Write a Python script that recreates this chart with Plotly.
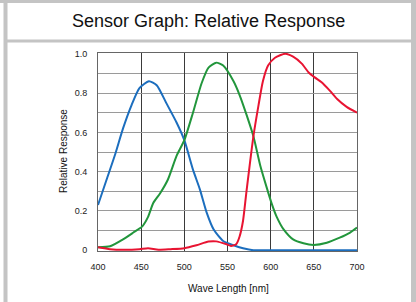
import plotly.graph_objects as go

# ---- data ----
blue_wl = [400, 410, 420, 429, 439, 448, 459, 468, 479, 491, 500, 510, 518, 526, 534, 545, 557, 568, 580, 600, 650, 700]
blue_val = [0.23, 0.36, 0.49, 0.62, 0.74, 0.825, 0.86, 0.84, 0.75, 0.65, 0.56, 0.41, 0.31, 0.19, 0.105, 0.047, 0.025, 0.01, 0.0, 0.0, 0.0, 0.0]

green_wl = [400, 414, 429, 441, 451, 458, 464, 472, 481, 491, 500, 510, 520, 528, 537, 545, 557, 564, 572, 580,
            588, 595, 601, 607, 615, 626, 638, 650, 665, 680, 692, 700]
green_val = [0.015, 0.02, 0.055, 0.09, 0.12, 0.17, 0.24, 0.29, 0.36, 0.48, 0.56, 0.70, 0.85, 0.93, 0.955, 0.94, 0.86, 0.79, 0.69, 0.58,
             0.43, 0.325, 0.24, 0.17, 0.106, 0.055, 0.035, 0.027, 0.038, 0.064, 0.09, 0.115]

red_wl = [400, 414, 430, 448, 458, 470, 484, 500, 514, 528, 537, 549, 554, 560, 564, 568, 572, 580, 586, 591, 597,
          605, 617, 626, 636, 644, 651, 659, 669, 677, 688, 700]
red_val = [0.015, 0.005, 0.002, 0.005, 0.01, 0.002, 0.005, 0.01, 0.025, 0.044, 0.045, 0.03, 0.022, 0.03, 0.07, 0.15, 0.30, 0.58, 0.74, 0.86, 0.94,
           0.98, 1.0, 0.985, 0.95, 0.905, 0.88, 0.855, 0.81, 0.77, 0.73, 0.70]

x_ticks = [400, 450, 500, 550, 600, 650, 700]
y_ticks = [0, 0.2, 0.4, 0.6, 0.8, 1.0]
y_tick_text = ["0", "0.2", "0.4", "0.6", "0.8", "1.0"]

title_text = "Sensor Graph: Relative Response"
x_title = "Wave Length [nm]"
y_title = "Relative Response"

# ---- layout geometry (pixels) ----
W, H = 416, 302
PL, PR, PT, PB = 98, 357, 53, 251


def px(x):
    return (x - PL) / (PR - PL)


def py(y):
    return (PB - y) / (PB - PT)


FONT = "Liberation Sans, Arial, sans-serif"

fig = go.Figure()
for wl, val, col in [(blue_wl, blue_val, "rgb(28,110,190)"),
                     (green_wl, green_val, "rgb(34,150,60)"),
                     (red_wl, red_val, "rgb(232,20,50)")]:
    fig.add_trace(go.Scatter(x=wl, y=val, mode="lines",
                             line=dict(color=col, width=2, shape="spline", smoothing=0.6),
                             showlegend=False, hoverinfo="skip"))

border = "#c4c4c4"
shapes = [
    dict(type="rect", xref="paper", yref="paper", x0=px(3.5), x1=px(7.5), y0=py(H), y1=py(0),
         fillcolor=border, line_width=0, layer="below"),
    dict(type="rect", xref="paper", yref="paper", x0=px(411), x1=px(W), y0=py(H), y1=py(0),
         fillcolor=border, line_width=0, layer="below"),
    dict(type="rect", xref="paper", yref="paper", x0=px(0), x1=px(W), y0=py(3), y1=py(0),
         fillcolor=border, line_width=0, layer="below"),
    dict(type="rect", xref="paper", yref="paper", x0=px(4), x1=px(W), y0=py(42.5), y1=py(39.5),
         fillcolor=border, line_width=0, layer="below"),
]

fig.update_layout(
    width=W, height=H,
    margin=dict(l=PL, r=W - PR, t=PT, b=H - PB, pad=0),
    paper_bgcolor="white", plot_bgcolor="white",
    font=dict(family=FONT, color="#222"),
    shapes=shapes,
    annotations=[
        dict(text=title_text, xref="paper", yref="paper", x=px(208), y=py(20.5),
             xanchor="center", yanchor="middle", showarrow=False,
             font=dict(size=18, color="#111", family=FONT)),
        dict(text=x_title, xref="paper", yref="paper", x=px(228), y=py(288),
             xanchor="center", yanchor="middle", showarrow=False,
             font=dict(size=10, color="#111", family=FONT)),
        dict(text=y_title, xref="paper", yref="paper", x=px(63), y=py(151),
             xanchor="center", yanchor="middle", showarrow=False, textangle=-90,
             font=dict(size=10, color="#111", family=FONT)),
    ],
)

fig.update_xaxes(range=[400, 700], tickvals=x_ticks, ticktext=[str(v) for v in x_ticks],
                 showgrid=True, gridcolor="#3a3a3a", gridwidth=1,
                 showline=True, linecolor="#666", linewidth=1, mirror=True,
                 ticks="", ticklabelstandoff=7, zeroline=False,
                 tickfont=dict(size=9, color="#222", family=FONT))
fig.update_yaxes(range=[-0.004, 1.004], tickvals=y_ticks, ticktext=y_tick_text,
                 showgrid=True, gridcolor="#9a9a9a", gridwidth=1,
                 minor=dict(dtick=0.1, tick0=0, showgrid=True, gridcolor="#9a9a9a", gridwidth=1),
                 showline=True, linecolor="#666", linewidth=1, mirror=True,
                 ticks="", ticklabelstandoff=8, zeroline=False,
                 tickfont=dict(size=9, color="#222", family=FONT))

fig.write_html("out.html", config={"displayModeBar": False},
               post_script="document.body.style.margin='0';document.body.style.overflow='hidden';")
